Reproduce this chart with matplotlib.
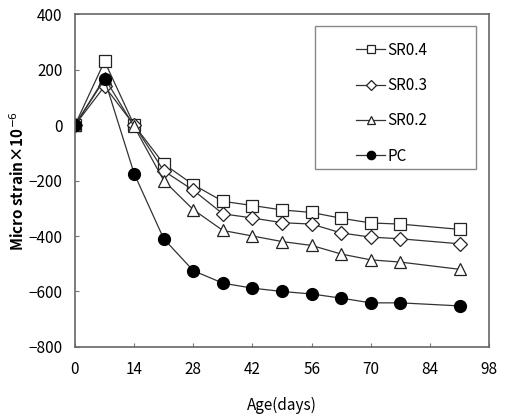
import matplotlib
matplotlib.use("Agg")
import matplotlib.pyplot as plt
from matplotlib.patches import Rectangle

plt.rcParams['font.family'] = ['Noto Sans CJK JP', 'DejaVu Sans']

# Data
days = [0, 7, 14, 21, 28, 35, 42, 49, 56, 63, 70, 77, 91]
sr04 = [0, 230, 0, -140, -215, -275, -290, -306, -315, -336, -353, -357, -376]
sr03 = [0, 140, 0, -165, -235, -320, -335, -352, -357, -389, -404, -410, -428]
sr02 = [0, 170, -5, -200, -305, -380, -400, -420, -434, -465, -486, -494, -520]
pc = [0, 165, -175, -410, -525, -570, -588, -600, -609, -624, -641, -641, -652]

fig = plt.figure(figsize=(5.05, 4.16), dpi=100)
ax = fig.add_axes([0.1485, 0.166, 0.82, 0.80])

lc = '#333333'
ax.plot(days, sr04, color=lc, lw=0.9, marker='s', ms=9, mfc='white', mec='#222222', mew=0.9, label='SR0.4')
ax.plot(days, sr03, color=lc, lw=0.9, marker='D', ms=7, mfc='white', mec='#222222', mew=0.9, label='SR0.3')
ax.plot(days, sr02, color=lc, lw=0.9, marker='^', ms=9, mfc='white', mec='#222222', mew=0.9, label='SR0.2')
ax.plot(days, pc, color=lc, lw=0.9, marker='o', ms=8.5, mfc='black', mec='black', label='PC')

ax.set_xlim(0, 98)
ax.set_ylim(-800, 400)
ax.set_xticks(range(0, 99, 14))
ax.set_yticks(range(-800, 401, 200))
ax.tick_params(direction='in', length=3, color='#777777', labelsize=11)
ax.tick_params(axis='x', pad=10)
ax.tick_params(axis='y', pad=9)
for s in ax.spines.values():
    s.set_color('#666666')
    s.set_linewidth(1.2)

ax.set_xlabel('Age(days)', fontsize=11, labelpad=14)
ax.set_ylabel('Micro strain×10$^{-6}$', fontsize=11, fontweight='bold', labelpad=1)

# legend frame drawn separately so the entries can sit inside it like the reference
fig.add_artist(Rectangle((0.624, 0.594), 0.319, 0.344, transform=fig.transFigure,
                         fill=False, edgecolor='#888888', lw=1.0))
leg = ax.legend(loc='upper left', bbox_to_anchor=(0.705, 0.90), bbox_transform=fig.transFigure,
                frameon=False, fontsize=11, handlelength=1.9, labelspacing=1.2,
                borderpad=0, handletextpad=0.15, borderaxespad=0, markerscale=0.7)

fig.savefig('out.png', dpi=100)
